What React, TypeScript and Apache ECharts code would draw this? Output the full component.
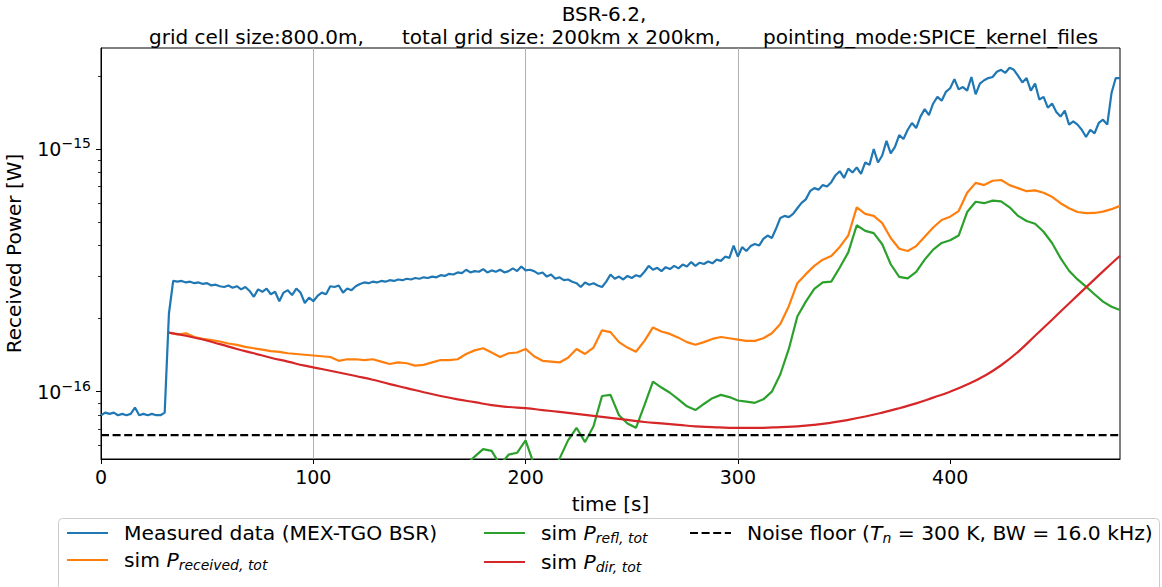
import React, { useEffect, useRef } from "react";
import * as echarts from "echarts";

// Power values are stored in units of 1e-16 W.
const UNIT = 1e-16;

// Measured data (MEX-TGO BSR), sampled every 2 s from t = 0 s
const MEAS_START = 0;
const MEAS_STEP = 2;
const measured = [
  0.80, 0.82, 0.81, 0.82, 0.80, 0.81, 0.80, 0.81, 0.86, 0.80,
  0.81, 0.80, 0.81, 0.80, 0.80, 0.82, 2.10, 2.86, 2.84, 2.86,
  2.82, 2.84, 2.80, 2.82, 2.78, 2.80, 2.74, 2.76, 2.72, 2.70,
  2.74, 2.68, 2.72, 2.64, 2.70, 2.60, 2.46, 2.64, 2.58, 2.66,
  2.52, 2.58, 2.36, 2.56, 2.62, 2.50, 2.66, 2.56, 2.32, 2.44,
  2.36, 2.48, 2.56, 2.52, 2.72, 2.70, 2.74, 2.56, 2.66, 2.62,
  2.72, 2.78, 2.82, 2.80, 2.84, 2.82, 2.86, 2.84, 2.88, 2.86,
  2.90, 2.88, 2.92, 2.90, 2.94, 2.92, 2.96, 2.94, 2.98, 2.96,
  3.02, 3.00, 3.06, 3.04, 3.10, 3.08, 3.18, 3.10, 3.14, 3.12,
  3.20, 3.10, 3.16, 3.12, 3.18, 3.10, 3.14, 3.22, 3.14, 3.28,
  3.16, 3.18, 3.14, 3.06, 3.10, 2.98, 3.04, 2.92, 2.96, 2.88,
  2.90, 2.84, 2.80, 2.70, 2.82, 2.76, 2.80, 2.74, 2.70, 2.84,
  3.04, 2.92, 2.98, 2.90, 3.00, 2.94, 3.02, 2.98, 3.12, 3.30,
  3.18, 3.24, 3.14, 3.26, 3.20, 3.30, 3.22, 3.34, 3.28, 3.42,
  3.30, 3.40, 3.36, 3.44, 3.38, 3.50, 3.46, 3.60, 3.56, 4.00,
  3.60, 3.94, 3.80, 3.98, 4.06, 4.00, 4.26, 4.40, 4.30, 4.70,
  5.20, 5.30, 5.24, 5.40, 5.70, 6.00, 6.20, 6.70, 6.90, 6.80,
  7.10, 7.00, 7.30, 7.80, 8.10, 7.60, 8.30, 8.00, 8.40, 7.90,
  8.80, 8.60, 10.0, 8.80, 9.40, 10.8, 9.60, 10.2, 11.4, 11.0,
  12.0, 12.8, 12.2, 13.6, 14.6, 13.8, 15.4, 16.4, 15.8, 17.2,
  17.8, 19.4, 17.6, 18.0, 17.4, 19.8, 16.8, 18.6, 19.2, 19.6,
  19.8, 20.8, 21.2, 20.6, 21.6, 21.2, 20.0, 18.8, 19.6, 17.4,
  18.6, 16.0, 16.4, 14.8, 15.4, 14.2, 13.6, 14.4, 12.6, 13.0,
  12.6, 12.0, 11.2, 12.0, 11.6, 12.8, 13.2, 12.6, 17.0, 19.6,
  19.6,
];

// Simulated total received power, every 4 s from t = 32 s
const RECV_START = 32;
const RECV_STEP = 4;
const received = [
  1.75, 1.72, 1.74, 1.68, 1.65, 1.63, 1.61, 1.58, 1.56, 1.53,
  1.51, 1.49, 1.47, 1.46, 1.44, 1.43, 1.42, 1.41, 1.40, 1.39,
  1.34, 1.36, 1.36, 1.35, 1.36, 1.33, 1.30, 1.32, 1.31, 1.28,
  1.29, 1.32, 1.35, 1.35, 1.36, 1.43, 1.48, 1.51, 1.45, 1.39,
  1.44, 1.45, 1.50, 1.40, 1.34, 1.33, 1.32, 1.38, 1.50, 1.43,
  1.52, 1.79, 1.76, 1.60, 1.52, 1.46, 1.62, 1.84, 1.77, 1.73,
  1.67, 1.60, 1.56, 1.60, 1.65, 1.68, 1.66, 1.64, 1.62, 1.62,
  1.66, 1.74, 1.90, 2.25, 2.80, 3.05, 3.30, 3.50, 3.62, 3.95,
  4.40, 5.75, 5.40, 5.30, 4.95, 4.30, 3.88, 3.80, 3.98, 4.35,
  4.75, 5.10, 5.26, 5.55, 6.60, 7.25, 7.10, 7.40, 7.45, 7.10,
  6.90, 6.70, 6.75, 6.60, 6.35, 5.98, 5.70, 5.50, 5.44, 5.45,
  5.52, 5.65, 5.83,
];

// Simulated reflected power, every 4 s from t = 168 s
const REFL_START = 168;
const REFL_STEP = 4;
const reflected = [
  0.42, 0.50, 0.54, 0.58, 0.57, 0.50, 0.55, 0.56, 0.63, 0.50,
  0.42, 0.46, 0.53, 0.63, 0.71, 0.62, 0.72, 0.96, 0.97, 0.80,
  0.74, 0.71, 0.88, 1.10, 1.04, 0.99, 0.93, 0.87, 0.84, 0.89,
  0.94, 0.97, 0.95, 0.92, 0.91, 0.90, 0.93, 1.00, 1.18, 1.50,
  2.04, 2.35, 2.65, 2.82, 2.84, 3.25, 3.75, 4.85, 4.60, 4.50,
  4.05, 3.35, 2.97, 2.93, 3.12, 3.50, 3.85, 4.10, 4.21, 4.40,
  5.50, 6.06, 5.98, 6.13, 6.08, 5.75, 5.30, 5.05, 4.92, 4.56,
  4.10, 3.55, 3.15, 2.90, 2.71, 2.52, 2.35, 2.24, 2.17,
];

// Simulated direct power, every 8 s from t = 32 s
const DIR_START = 32;
const DIR_STEP = 8;
const direct = [
  1.75, 1.70, 1.64, 1.57, 1.50, 1.44, 1.38, 1.33, 1.28, 1.24,
  1.20, 1.16, 1.12, 1.075, 1.035, 0.995, 0.96, 0.93, 0.905, 0.88,
  0.865, 0.855, 0.84, 0.825, 0.81, 0.795, 0.78, 0.765, 0.75, 0.74,
  0.73, 0.72, 0.715, 0.71, 0.71, 0.71, 0.715, 0.72, 0.73, 0.745,
  0.765, 0.79, 0.82, 0.855, 0.895, 0.945, 1.00, 1.07, 1.16, 1.285,
  1.46, 1.70, 1.98, 2.31, 2.69, 3.13, 3.63,
];

// Noise floor k*T*B for T = 300 K, B = 16 kHz
const noiseFloor = 0.6624;

const timeRange = [0, 480];
const powerRange = [5.28e-17, 2.607e-15];
const xTicks = [0, 100, 200, 300, 400];
const yMajorTicks = [1e-16, 1e-15];
const yMinorTicks = [
  6e-17, 7e-17, 8e-17, 9e-17,
  2e-16, 3e-16, 4e-16, 5e-16, 6e-16, 7e-16, 8e-16, 9e-16,
  2e-15,
];

const NAMES = {
  meas: "Measured data (MEX-TGO BSR)",
  recv: "sim P_received,tot",
  refl: "sim P_refl,tot",
  dir: "sim P_dir,tot",
  noise: "Noise floor",
};

const LEGEND_TEXT: Record<string, string> = {
  [NAMES.meas]: "{n|Measured data (MEX-TGO BSR)}",
  [NAMES.recv]: "{n|sim }{p|P}{s|received, tot}",
  [NAMES.refl]: "{n|sim }{p|P}{s|refl, tot}",
  [NAMES.dir]: "{n|sim }{p|P}{s|dir, tot}",
  [NAMES.noise]: "{n|Noise floor (}{p|T}{s|n}{n| = 300 K, BW = 16.0 kHz)}",
};

const FONT = "DejaVu Sans";
const C_BLUE = "#1f77b4";
const C_ORANGE = "#ff7f0e";
const C_GREEN = "#2ca02c";
const C_RED = "#d62728";
const LW = 2.2;

function series(values: number[], start: number, step: number) {
  return values.map((v, i) => [start + i * step, v * UNIT]);
}

const legendRich = {
  n: { fontFamily: FONT, fontSize: 20.3, color: "#000", lineHeight: 24 },
  p: { fontFamily: FONT, fontSize: 20.3, fontStyle: "italic", color: "#000", lineHeight: 24 },
  s: {
    fontFamily: FONT,
    fontSize: 14,
    fontStyle: "italic",
    color: "#000",
    lineHeight: 14,
    verticalAlign: "bottom",
  },
};

function legendBlock(left: number, top: number, data: string[]) {
  return {
    orient: "vertical",
    left,
    top,
    padding: 0,
    itemGap: 7,
    itemWidth: 41,
    itemHeight: 14,
    selectedMode: false,
    data,
    itemStyle: { opacity: 0 },
    formatter: (name: string) => LEGEND_TEXT[name],
    textStyle: {
      fontFamily: FONT,
      fontSize: 20,
      color: "#000",
      padding: [0, 0, 0, 11],
      rich: legendRich,
    },
  };
}

const titleStyle = { fontFamily: FONT, fontSize: 20, fontWeight: "normal", color: "#000", lineHeight: 24 };

export default function App() {
  const ref = useRef<HTMLDivElement>(null);

  useEffect(() => {
    if (!ref.current) return;
    const chart = echarts.init(ref.current, undefined, { renderer: "svg" });

    const option = {
      animation: false,
      backgroundColor: "#ffffff",
      title: [
        { text: "BSR-6.2,", left: 604, top: 2, padding: 0, textAlign: "center", textStyle: titleStyle },
        { text: "grid cell size:800.0m,", left: 149, top: 25, padding: 0, textStyle: titleStyle },
        { text: "total grid size: 200km x 200km,", left: 402, top: 25, padding: 0, textStyle: titleStyle },
        { text: "pointing_mode:SPICE_kernel_files", left: 763, top: 25, padding: 0, textStyle: titleStyle },
      ],
      grid: {
        left: 101,
        right: 42,
        top: 48,
        bottom: 128,
        outerBoundsMode: "none",
        containLabel: false,
        show: true,
        borderColor: "#000",
        borderWidth: 1,
        backgroundColor: "transparent",
      },
      legend: [
        legendBlock(66, 523, [NAMES.meas, NAMES.recv]),
        legendBlock(483, 523, [NAMES.refl, NAMES.dir]),
        legendBlock(689, 523, [NAMES.noise]),
      ],
      graphic: [
        {
          type: "rect",
          z: 0,
          silent: true,
          shape: { x: 58.5, y: 518.5, width: 1101, height: 90, r: 4 },
          style: { fill: "#ffffff", stroke: "#cccccc", lineWidth: 1 },
        },
      ],
      xAxis: {
        type: "value",
        min: timeRange[0],
        max: timeRange[1],
        interval: 100,
        name: "time [s]",
        nameLocation: "middle",
        nameGap: 27,
        nameTextStyle: { fontFamily: FONT, fontSize: 20, color: "#000", lineHeight: 24 },
        axisLine: { show: true, lineStyle: { color: "#000", width: 1 } },
        axisTick: { show: true, length: 5, customValues: xTicks, lineStyle: { color: "#000", width: 1 } },
        axisLabel: {
          customValues: xTicks,
          fontFamily: FONT,
          fontSize: 19,
          lineHeight: 20,
          color: "#000",
          margin: 8,
        },
        splitLine: {
          show: true,
          showMinLine: false,
          showMaxLine: false,
          lineStyle: { color: "#b0b0b0", width: 1 },
        },
      },
      yAxis: [
        {
          type: "log",
          logBase: 10,
          min: powerRange[0],
          max: powerRange[1],
          name: "Received Power [W]",
          nameLocation: "middle",
          nameGap: 71,
          nameTextStyle: { fontFamily: FONT, fontSize: 20, color: "#000", lineHeight: 24 },
          axisLine: { show: true, lineStyle: { color: "#000", width: 1 } },
          axisTick: { show: true, length: 5, customValues: yMajorTicks, lineStyle: { color: "#000", width: 1 } },
          axisLabel: {
            customValues: yMajorTicks,
            margin: 10,
            formatter: (v: number) => {
              const e = Math.round(Math.log10(v));
              return `{b|10}{e|\u2212${Math.abs(e)}}`;
            },
            rich: {
              b: { fontFamily: FONT, fontSize: 19, color: "#000", lineHeight: 26 },
              e: { fontFamily: FONT, fontSize: 14, color: "#000", lineHeight: 14, verticalAlign: "top" },
            },
          },
          splitLine: {
            show: true,
            showMinLine: false,
            showMaxLine: false,
            lineStyle: { color: "#b0b0b0", width: 1 },
          },
        },
        {
          type: "log",
          logBase: 10,
          min: powerRange[0],
          max: powerRange[1],
          position: "left",
          offset: 0,
          axisLine: { show: false },
          axisLabel: { show: false },
          splitLine: { show: false },
          axisTick: { show: true, length: 3, customValues: yMinorTicks, lineStyle: { color: "#000", width: 0.8 } },
        },
      ],
      series: [
        {
          type: "line",
          name: NAMES.meas,
          data: series(measured, MEAS_START, MEAS_STEP),
          symbol: "none",
          itemStyle: { color: C_BLUE },
          lineStyle: { color: C_BLUE, width: LW },
        },
        {
          type: "line",
          name: NAMES.recv,
          data: series(received, RECV_START, RECV_STEP),
          symbol: "none",
          itemStyle: { color: C_ORANGE },
          lineStyle: { color: C_ORANGE, width: LW },
        },
        {
          type: "line",
          name: NAMES.refl,
          data: series(reflected, REFL_START, REFL_STEP),
          symbol: "none",
          itemStyle: { color: C_GREEN },
          lineStyle: { color: C_GREEN, width: LW },
        },
        {
          type: "line",
          name: NAMES.dir,
          data: series(direct, DIR_START, DIR_STEP),
          symbol: "none",
          smooth: 0.5,
          itemStyle: { color: C_RED },
          lineStyle: { color: C_RED, width: LW },
        },
        {
          type: "line",
          name: NAMES.noise,
          data: [
            [timeRange[0], noiseFloor * UNIT],
            [timeRange[1], noiseFloor * UNIT],
          ],
          symbol: "none",
          itemStyle: { color: "#000" },
          lineStyle: { color: "#000", width: LW, type: [8, 3.6] },
        },
      ],
    };

    chart.setOption(option as any);
    return () => chart.dispose();
  }, []);

  return (
    <div
      ref={ref}
      style={{ position: "absolute", left: 0, top: 0, width: 1162, height: 587 }}
    />
  );
}
